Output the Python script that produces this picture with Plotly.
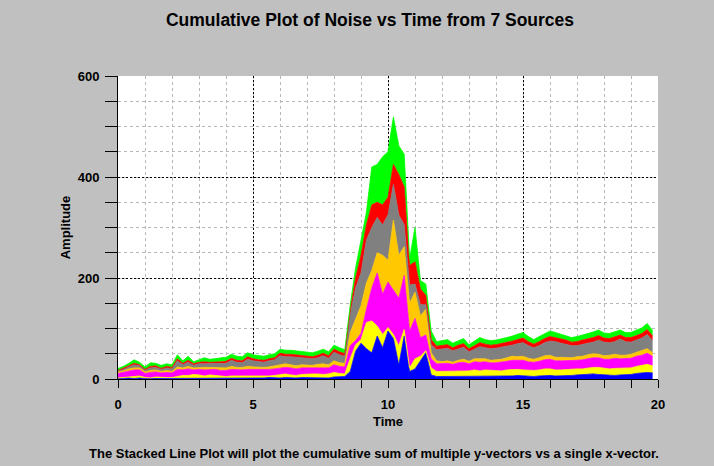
import numpy as np
import plotly.graph_objects as go

# Time axis: 0 to 19.8 in steps of 0.2
time = np.round(np.arange(100) * 0.2, 1)

# Per-source noise amplitudes (stacked bottom to top)
source_1 = [1, 2, 2, 1, 2, 1, 1, 2, 1, 2, 1, 2, 2, 1, 2, 2, 1, 2, 2, 1,
            2, 2, 1, 2, 2, 2, 1, 2, 3, 2, 2, 3, 2, 2, 3, 3, 2, 3, 3, 2,
            4, 4, 5,
            15, 55, 71, 60, 52, 85, 62, 95, 80, 28, 85, 15, 20, 35, 52, 8, 5,
            5, 5, 6, 5, 5, 6, 6, 5, 6, 6, 6, 5, 6, 6, 7, 6, 6, 5, 6, 7,
            7, 6, 6, 7, 7, 8, 9, 10, 10, 9, 8, 7, 7, 8, 8, 9, 11, 12, 13, 12]
source_2 = [1, 1, 2, 3, 4, 2, 1, 2, 2, 1, 2, 3, 5, 6, 7, 6, 5, 6, 5, 4,
            3, 4, 5, 4, 3, 4, 5, 4, 3, 5, 6, 7, 6, 5, 6, 7, 8, 7, 6, 8,
            9, 7, 5,
            25, 13, 7, 52, 63, 20, 26, 7, 8, 38, 13, 7, 20, 10, 4, 14, 10,
            10, 10, 9, 11, 11, 10, 12, 11, 12, 11, 10, 11, 12, 13, 12, 12, 11, 12, 12, 13,
            13, 12, 12, 12, 13, 12, 11, 12, 13, 14, 13, 13, 14, 13, 14, 13, 14, 15, 16, 14]
source_3 = [9, 10, 12, 14, 12, 8, 11, 10, 9, 10, 9, 14, 11, 13, 9, 11, 12, 11, 12, 12,
            12, 13, 12, 12, 14, 13, 12, 12, 13, 13, 14, 13, 14, 13, 13, 12, 12, 13, 14, 12,
            15, 14, 14,
            26, 8, 12, 26, 65, 105, 80, 90, 87, 94, 107, 73, 80, 37, 31, 18, 15,
            15, 16, 14, 16, 17, 14, 16, 17, 16, 15, 16, 17, 17, 18, 18, 19, 17, 16, 17, 18,
            19, 18, 18, 17, 16, 17, 18, 18, 19, 19, 18, 19, 20, 19, 18, 19, 20, 20, 22, 19]
source_4 = [3, 3, 4, 4, 4, 3, 4, 4, 3, 4, 3, 5, 4, 5, 4, 4, 5, 4, 4, 5,
            5, 6, 5, 5, 6, 5, 5, 5, 5, 6, 7, 7, 6, 6, 6, 6, 5, 6, 7, 6,
            8, 7, 7,
            26, 44, 55, 52, 35, 40, 77, 43, 140, 85, 57, 55, 52, 43, 51, 12, 6,
            4, 5, 4, 5, 6, 5, 6, 7, 6, 5, 6, 6, 7, 8, 7, 8, 7, 6, 7, 8,
            8, 7, 7, 6, 6, 7, 7, 8, 8, 7, 7, 8, 8, 7, 7, 8, 8, 9, 9, 7]
source_5 = [2, 3, 4, 6, 4, 3, 5, 5, 4, 5, 5, 12, 6, 8, 5, 7, 7, 7, 7, 8,
            9, 12, 10, 9, 14, 12, 11, 10, 12, 12, 17, 14, 16, 17, 14, 13, 13, 13, 16, 13,
            17, 16, 14,
            36, 60, 65, 85, 85, 70, 60, 90, 70, 80, 43, 36, 16, 22, 9, 16, 22,
            26, 25, 23, 23, 24, 19, 19, 24, 22, 23, 23, 24, 22, 22, 26, 27, 25, 23, 24, 26,
            28, 31, 28, 27, 24, 22, 24, 23, 23, 28, 27, 25, 25, 32, 27, 24, 24, 25, 28, 24]
source_6 = [1, 2, 2, 3, 2, 2, 3, 3, 2, 3, 3, 4, 3, 4, 3, 3, 4, 3, 3, 4,
            4, 4, 4, 4, 5, 4, 4, 4, 4, 4, 5, 5, 5, 5, 5, 5, 4, 5, 5, 5,
            6, 6, 5,
            8, 20, 35, 30, 45, 30, 40, 35, 40, 80, 75, 39, 44, 31, 19, 10, 7,
            7, 7, 6, 7, 7, 6, 7, 8, 7, 7, 7, 7, 8, 8, 8, 9, 8, 7, 8, 8,
            9, 8, 8, 8, 7, 8, 8, 8, 9, 9, 8, 8, 9, 8, 8, 9, 9, 9, 10, 9]
source_7 = [4, 4, 5, 7, 5, 5, 7, 5, 6, 5, 5, 8, 5, 8, 4, 5, 8, 6, 7, 8,
            8, 8, 8, 8, 8, 8, 8, 8, 8, 8, 8, 8, 8, 8, 8, 8, 8, 8, 8, 8,
            8, 8, 8,
            10, 20, 30, 25, 75, 75, 95, 90, 94, 57, 65, 13, 68, 17, 22, 17, 9,
            9, 10, 9, 9, 10, 8, 9, 10, 9, 9, 9, 9, 10, 10, 10, 11, 10, 9, 10, 10,
            11, 10, 10, 9, 9, 10, 10, 10, 11, 11, 10, 10, 11, 10, 10, 10, 11, 11, 12, 11]

sources = [source_1, source_2, source_3, source_4, source_5, source_6, source_7]
colors = ["#0000FF", "#FFFF00", "#FF00FF", "#FFC800", "#808080", "#FF0000", "#00FF00"]

x_ticks = [0, 5, 10, 15, 20]
y_ticks = [0, 200, 400, 600]

FONT = "Liberation Sans, Arial, sans-serif"

fig = go.Figure()
for i, (vals, col) in enumerate(zip(sources, colors)):
    fig.add_trace(go.Scatter(
        x=time, y=vals, mode="lines", stackgroup="noise",
        line=dict(color=col, width=0.8), fillcolor=col,
        name=f"Source {i + 1}", showlegend=False,
    ))

fig.update_layout(
    width=714, height=466,
    paper_bgcolor="#C0C0C0", plot_bgcolor="#FFFFFF",
    margin=dict(l=118, r=56, t=76, b=87),
    font=dict(family=FONT, color="#000000", size=13),
    title=dict(
        text="Cumulative Plot of Noise vs Time from 7 Sources",
        x=370 / 714, y=1 - 20 / 466, xref="container", yref="container",
        xanchor="center", yanchor="middle",
        font=dict(family=FONT, size=17.5, weight="bold", color="#000000"),
    ),
)

fig.update_xaxes(
    range=[0, 20], tickvals=x_ticks, ticktext=[str(v) for v in x_ticks],
    showline=True, linecolor="#000000", linewidth=1,
    ticks="outside", ticklen=8, tickcolor="#000000",
    tickfont=dict(size=13, weight="bold"), ticklabelstandoff=5,
    showgrid=True, gridcolor="#000000", griddash="2px,2px", gridwidth=1,
    zeroline=False,
    minor=dict(dtick=1, ticks="outside", ticklen=8, tickcolor="#000000",
               showgrid=True, gridcolor="#B8B8B8", griddash="3px,3px", gridwidth=1),
    title=dict(text="Time", font=dict(size=13, weight="bold"), standoff=6),
)
fig.update_yaxes(
    range=[0, 600], tickvals=y_ticks, ticktext=[str(v) for v in y_ticks],
    showline=True, linecolor="#000000", linewidth=1,
    ticks="outside", ticklen=12, tickcolor="#000000",
    tickfont=dict(size=13, weight="bold"), ticklabelstandoff=3,
    showgrid=True, gridcolor="#000000", griddash="2px,2px", gridwidth=1,
    zeroline=False,
    minor=dict(dtick=50, ticks="outside", ticklen=12, tickcolor="#000000",
               showgrid=True, gridcolor="#B8B8B8", griddash="3px,3px", gridwidth=1),
    title=dict(text="Amplitude", font=dict(size=13, weight="bold"), standoff=4),
)

fig.add_annotation(
    text="The Stacked Line Plot will plot the cumulative sum of multiple y-vectors vs a single x-vector.",
    xref="paper", yref="paper", x=(374 - 118) / 540, y=(379 - 453) / 303,
    xanchor="center", yanchor="middle", showarrow=False,
    font=dict(family=FONT, size=13, weight="bold", color="#000000"),
)

fig.write_html("out.html")
